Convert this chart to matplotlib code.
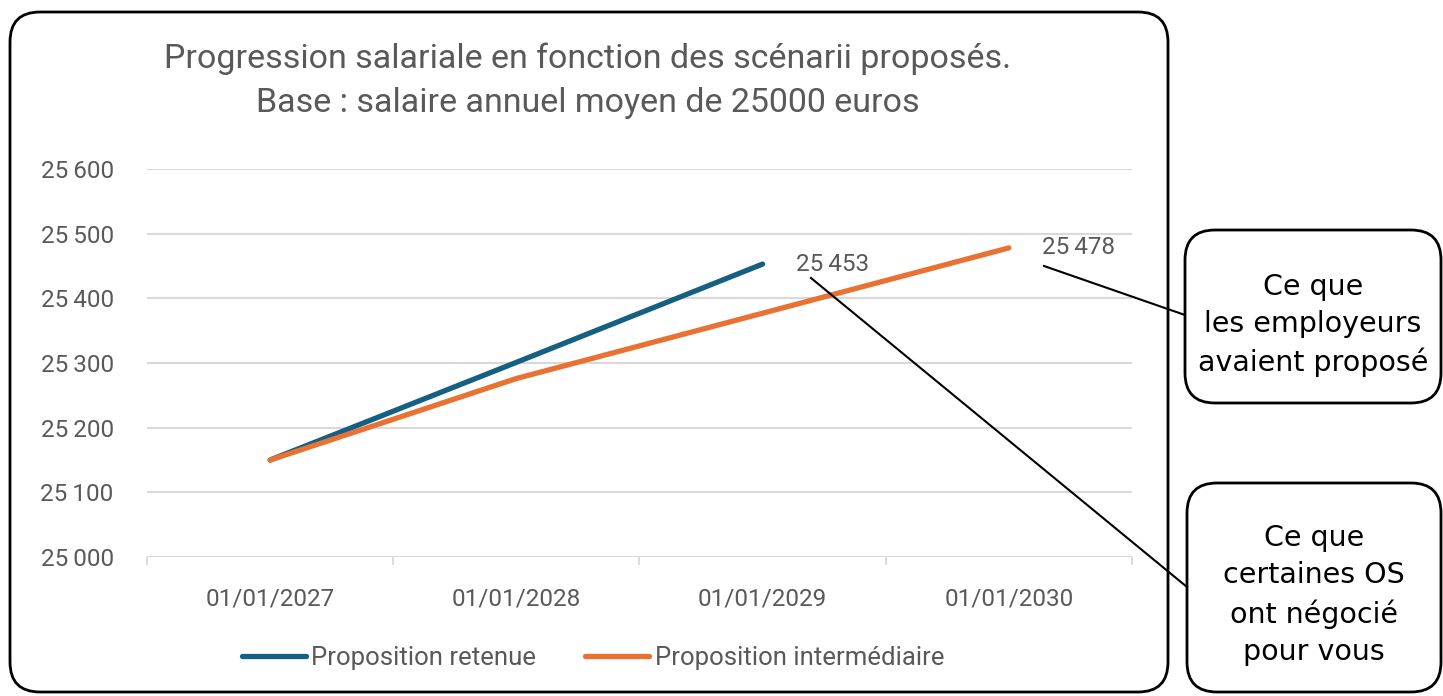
import matplotlib.pyplot as plt
from matplotlib.patches import FancyBboxPatch
from matplotlib.lines import Line2D
from matplotlib.ticker import FuncFormatter, FixedLocator

dates = ["01/01/2027", "01/01/2028", "01/01/2029", "01/01/2030"]
retenue = [25150, 25301, 25453]
intermediaire = [25150, 25276, 25377, 25478]

BLUE = "#156082"
ORANGE = "#E97132"
GREY = "#595959"
GRID = "#d9d9d9"

plt.rcParams['font.family'] = ['Roboto', 'DejaVu Sans']

fig = plt.figure(figsize=(14.43, 6.96), dpi=100)
ax = fig.add_axes([147 / 1443, 1 - 557 / 696, (1132 - 147) / 1443, (557 - 169) / 696])

x_ret = list(range(len(retenue)))
x_int = list(range(len(intermediaire)))
ax.plot(x_ret, retenue, color=BLUE, lw=3.8, solid_capstyle='round', label="Proposition retenue", zorder=3)
ax.plot(x_int, intermediaire, color=ORANGE, lw=3.8, solid_capstyle='round', label="Proposition intermédiaire", zorder=3)

ax.set_xlim(-0.5, len(dates) - 0.5)
ax.set_ylim(25000, 25600)
ax.set_yticks(range(25000, 25601, 100))
ax.yaxis.set_major_formatter(FuncFormatter(lambda v, p: f"{int(v):,}".replace(",", "\u2009")))
ax.set_xticks(x_int)
ax.set_xticklabels(dates)
ax.xaxis.set_minor_locator(FixedLocator([i - 0.5 for i in range(len(dates) + 1)]))
ax.tick_params(axis='x', which='major', length=0, pad=22, labelsize=17.5, labelcolor=GREY)
ax.tick_params(axis='x', which='minor', length=6, width=1.3, color=GRID)
ax.tick_params(axis='y', length=0, pad=24, labelsize=17.5, labelcolor=GREY)
ax.grid(axis='y', color=GRID, lw=1.5)
ax.set_axisbelow(True)
for s in ax.spines.values():
    s.set_visible(False)

# data labels at the end of each series
for xs, ys in ((x_ret, retenue), (x_int, intermediaire)):
    ax.annotate(f"{ys[-1]:,}".replace(",", "\u2009"), (xs[-1], ys[-1]), xytext=(24, 0),
                textcoords='offset points', ha='left', va='center', fontsize=17.5, color=GREY)

fig.text(588 / 1443, 1 - 81 / 696,
         "Progression salariale en fonction des scénarii proposés.\nBase : salaire annuel moyen de 25000 euros",
         ha='center', va='center', fontsize=24.5, color=GREY, linespacing=1.48)

ax.legend(loc='center', bbox_to_anchor=(593 / 1443, 1 - 658 / 696), bbox_transform=fig.transFigure,
          ncol=2, frameon=False, fontsize=18.5, handlelength=2.5, handletextpad=0.2,
          columnspacing=1.9, labelcolor=GREY)

# frames (in inches)
tr = fig.dpi_scale_trans
fig.patches.append(FancyBboxPatch((0.10, 0.04), 11.58, 6.80, boxstyle="round,pad=0,rounding_size=0.3",
                                  transform=tr, fill=False, ec='black', lw=2, zorder=0))
fig.patches.append(FancyBboxPatch((11.85, 2.93), 2.56, 1.73, boxstyle="round,pad=0,rounding_size=0.3",
                                  transform=tr, fill=False, ec='black', lw=2))
fig.patches.append(FancyBboxPatch((11.87, 0.04), 2.54, 2.09, boxstyle="round,pad=0,rounding_size=0.3",
                                  transform=tr, fill=False, ec='black', lw=2))

box_font = ['DejaVu Sans']
fig.text(13.13 / 14.43, 3.71 / 6.96, "Ce que\nles employeurs\navaient proposé", transform=fig.transFigure,
         ha='center', va='center', fontsize=20.5, family=box_font, linespacing=1.42)
fig.text(13.14 / 14.43, 1.01 / 6.96, "Ce que\ncertaines OS\nont négocié\npour vous", transform=fig.transFigure,
         ha='center', va='center', fontsize=20.5, family=box_font, linespacing=1.42)

# callout lines
fig.lines.append(Line2D([8.11, 11.87], [6.96 - 2.78, 6.96 - 5.87], transform=tr, color='black', lw=1.5))
fig.lines.append(Line2D([10.44, 11.85], [6.96 - 2.66, 6.96 - 3.15], transform=tr, color='black', lw=1.5))

fig.savefig("out.png", dpi=100)
